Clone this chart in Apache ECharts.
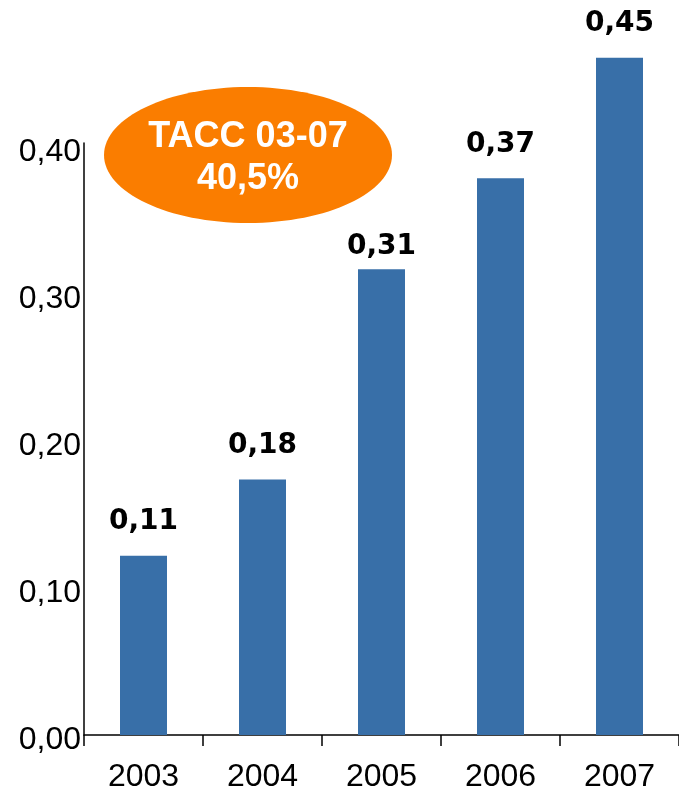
<!DOCTYPE html>
<html>
<head>
<meta charset="utf-8">
<script src="https://cdn.jsdelivr.net/npm/echarts@6/dist/echarts.min.js"></script>
<style>
  html, body { margin: 0; padding: 0; background: #fff; }
  #chart { width: 679px; height: 793px; }
</style>
</head>
<body>
<div id="chart"></div>
<script>
var years = ['2003', '2004', '2005', '2006', '2007'];
// bar heights as drawn
var barValues = [0.122, 0.174, 0.317, 0.379, 0.461];
// numbers printed above the bars
var barLabels = ['0,11', '0,18', '0,31', '0,37', '0,45'];
var yTicks = [0, 0.1, 0.2, 0.3, 0.4];

var chart = echarts.init(document.getElementById('chart'));

var barData = barValues.map(function (v, i) {
    var item = { value: v };
    if (i === 2) {
        item.label = { distance: 9 };
    }
    return item;
});

var option = {
    animation: false,
    grid: {
        left: 84,
        top: 143,
        width: 599,
        bottom: 56
    },
    xAxis: {
        type: 'category',
        data: years,
        axisLine: { lineStyle: { color: '#000', width: 1.5 } },
        axisTick: { show: true, length: 11, lineStyle: { color: '#000', width: 1.5 } },
        axisLabel: {
            color: '#000',
            fontSize: 32,
            fontFamily: 'Liberation Sans, Arial, sans-serif',
            margin: 26
        }
    },
    yAxis: {
        type: 'value',
        min: 0,
        max: 0.403,
        interval: 0.1,
        axisLine: { show: true, lineStyle: { color: '#000', width: 1.5 } },
        axisTick: { show: false },
        splitLine: { show: false },
        axisLabel: {
            color: '#000',
            fontSize: 32,
            fontFamily: 'Liberation Sans, Arial, sans-serif',
            margin: 3,
            verticalAlign: 'top',
            lineHeight: 10,
            formatter: function (v) {
                for (var i = 0; i < yTicks.length; i++) {
                    if (Math.abs(v - yTicks[i]) < 1e-6) {
                        return yTicks[i].toFixed(2).replace('.', ',');
                    }
                }
                return '';
            }
        }
    },
    series: [{
        type: 'bar',
        data: barData,
        barWidth: 47,
        clip: false,
        itemStyle: { color: '#386FA8' },
        label: {
            show: true,
            position: 'top',
            distance: 20,
            color: '#000',
            fontSize: 28,
            fontWeight: 'bold',
            fontFamily: 'DejaVu Sans, Verdana, sans-serif',
            formatter: function (p) { return barLabels[p.dataIndex]; }
        }
    }],
    graphic: [{
        type: 'ellipse',
        shape: { cx: 248, cy: 155, rx: 144, ry: 68 },
        style: { fill: '#FA7D00' },
        z: 10
    }, {
        type: 'text',
        x: 248,
        y: 158,
        z: 11,
        style: {
            text: 'TACC 03-07\n40,5%',
            fill: '#fff',
            font: 'bold 36px "Liberation Sans", Arial, sans-serif',
            lineHeight: 42,
            align: 'center',
            verticalAlign: 'middle'
        }
    }]
};

chart.setOption(option);
</script>
</body>
</html>
